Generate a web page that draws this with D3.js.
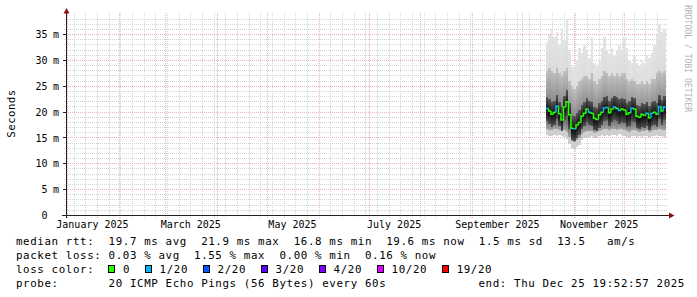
<!DOCTYPE html>
<html>
<head>
<meta charset="utf-8">
<script src="https://cdn.jsdelivr.net/npm/d3@7"></script>
<style>
  body { margin: 0; background: #fff; }
  svg { display: block; font-family: "DejaVu Sans Mono", monospace; }
</style>
</head>
<body>
<svg id="chart" width="697" height="297"></svg>
<script>
// graph window: last 360 days up to the end time
var endTime = new Date(Date.UTC(2025, 11, 25, 19, 52, 57));
var spanDays = 360;
// probing starts mid October, one bucket every 36 h
var dataStart = new Date(Date.UTC(2025, 9, 15, 3, 0, 0));
var stepHours = 36;

// median rtt per bucket (ms)
var median = [20.7, 20.2, 19.6, 20.0, 21.2, 19.7, 18.5, 21.0, 22.0, 19.5, 16.9, 16.8,
              17.5, 18.0, 19.2, 19.8, 20.6, 20.0, 19.8, 18.8, 18.6, 19.5, 20.0, 20.8,
              20.9, 19.9, 20.6, 21.0, 20.7, 20.3, 20.6, 20.4, 19.6, 19.9, 20.8, 20.6,
              19.2, 19.0, 19.6, 19.4, 19.8, 18.9, 19.8, 20.0, 19.6, 21.1, 20.2, 21.0];
// lost pings out of 20 per bucket
var loss = [1, 0, 0, 0, 1, 0, 0, 0, 0, 0, 0, 1,
            0, 0, 0, 0, 0, 1, 0, 0, 0, 0, 0, 1,
            1, 0, 0, 1, 0, 1, 0, 0, 0, 0, 1, 0,
            0, 0, 0, 0, 1, 0, 1, 0, 0, 1, 0, 1];
// smoke: fastest / slowest ping
var pingMin = [15.6, 15.4, 15.3, 15.5, 15.4, 15.6, 15.3, 15.2, 14.8, 13.8, 13.0, 12.8,
               13.2, 13.6, 14.6, 15.0, 15.2, 15.1, 15.3, 15.0, 15.2, 15.4, 15.5, 15.3,
               15.6, 15.4, 15.5, 15.6, 15.3, 15.7, 15.5, 15.4, 15.2, 15.0, 15.3, 15.4,
               15.2, 15.3, 15.1, 15.4, 15.3, 15.2, 15.4, 15.3, 15.5, 15.3, 15.4, 15.2];
var pingMax = [33.5, 35.0, 36.0, 34.5, 35.5, 33.0, 36.0, 34.0, 38.0, 32.0, 29.0, 28.5,
               30.0, 32.5, 31.5, 33.0, 32.0, 30.5, 34.5, 29.5, 29.0, 30.0, 32.5, 34.5,
               32.0, 31.5, 32.5, 31.0, 32.0, 33.0, 32.0, 34.5, 32.5, 30.0, 29.5, 31.0,
               29.5, 29.0, 30.0, 29.5, 31.0, 30.5, 31.5, 33.0, 35.0, 37.0, 35.5, 36.0];
// smoke: middle band of pings
var midLow = [16.8, 16.6, 16.5, 16.7, 16.8, 16.6, 16.3, 16.5, 16.2, 15.2, 14.4, 14.2,
              14.6, 15.0, 15.8, 16.2, 16.4, 16.3, 16.3, 16.0, 16.1, 16.4, 16.6, 16.7,
              16.8, 16.5, 16.7, 16.8, 16.6, 16.8, 16.7, 16.6, 16.3, 16.2, 16.5, 16.6,
              16.3, 16.2, 16.3, 16.4, 16.5, 16.2, 16.4, 16.5, 16.5, 16.7, 16.6, 16.5];
var midHigh = [28.0, 28.5, 28.0, 27.5, 28.5, 27.5, 27.0, 28.0, 28.5, 26.0, 25.0, 24.5,
               25.0, 26.0, 26.5, 27.0, 27.0, 26.5, 27.5, 26.0, 25.5, 26.5, 27.0, 28.0,
               27.5, 27.0, 27.5, 27.0, 27.5, 27.0, 27.5, 27.5, 26.5, 26.0, 26.5, 26.0,
               25.5, 25.5, 26.0, 25.5, 26.0, 25.5, 26.5, 26.5, 27.5, 28.0, 27.5, 28.0];
// smoke: dense core around the median
var coreLow = [18.2, 17.8, 17.2, 17.5, 18.6, 17.3, 16.4, 18.4, 19.2, 16.8, 14.6, 14.4,
               15.0, 15.6, 16.8, 17.4, 18.1, 17.6, 17.3, 16.5, 16.3, 17.0, 17.6, 18.3,
               18.4, 17.4, 18.1, 18.5, 18.2, 17.8, 18.1, 17.9, 17.1, 17.4, 18.3, 18.1,
               16.9, 16.7, 17.1, 17.0, 17.4, 16.6, 17.3, 17.6, 17.2, 18.6, 17.6, 18.5];
var coreHigh = [23.0, 22.5, 22.0, 22.2, 23.4, 22.0, 21.0, 23.2, 24.3, 21.8, 19.4, 19.2,
                19.8, 20.4, 21.4, 22.0, 22.8, 22.2, 22.0, 21.0, 20.8, 21.7, 22.2, 23.0,
                23.1, 22.1, 22.8, 23.2, 22.9, 22.5, 22.8, 22.6, 21.8, 22.1, 23.0, 22.8,
                21.4, 21.2, 21.8, 21.6, 22.0, 21.1, 22.0, 22.2, 21.8, 23.3, 22.4, 23.2];

var yMajor = [0, 5, 10, 15, 20, 25, 30, 35];
var yMax = 38.7;

var lossLabels = ["0", "1/20", "2/20", "3/20", "4/20", "10/20", "19/20"];
var lossColors = ["#26ff00", "#00b8ff", "#0059ff", "#5e00ff", "#7e00ff", "#dd00ff", "#ff0000"];
// which legend colour a loss count uses
var lossSteps = [0, 1, 2, 3, 4, 10, 19];

var statRows = [
  "median rtt:  19.7 ms avg  21.9 ms max  16.8 ms min  19.6 ms now  1.5 ms sd  13.5   am/s",
  "packet loss: 0.03 % avg  1.55 % max  0.00 % min  0.16 % now"
];
var probeText = "probe:       20 ICMP Echo Pings (56 Bytes) every 60s";
var endText = "end: Thu Dec 25 19:52:57 2025";

var svg = d3.select("#chart");
var startTime = d3.utcDay.offset(endTime, -spanDays);

var x = d3.scaleTime().domain([startTime, endTime]).range([65.5, 665.5]);
var y = d3.scaleLinear().domain([0, yMax]).range([215.5, 15.5]);
function px(v) { return Math.floor(v) + 0.5; }
// keep runs of spaces in svg text
function keep(s) { return s.replace(/ /g, "\u00a0"); }

var defs = svg.append("defs");
defs.append("clipPath").attr("id", "plot")
  .append("rect").attr("x", 66).attr("y", 15).attr("width", 600).attr("height", 200.5);

function grad(id, stops) {
  var g = defs.append("linearGradient").attr("id", id)
    .attr("x1", 0).attr("y1", 0).attr("x2", 0).attr("y2", 1);
  stops.forEach(function(s) {
    g.append("stop").attr("offset", s[0]).attr("stop-color", s[1]);
  });
}
grad("gOuter", [[0, "#e4e4e4"], [0.7, "#d4d4d4"], [1, "#cdcdcd"]]);
grad("gMid", [[0, "#c0c0c0"], [0.5, "#8e8e8e"], [0.8, "#646464"], [1, "#a2a2a2"]]);
grad("gCore", [[0, "#585858"], [0.4, "#222222"], [0.6, "#121212"], [1, "#505050"]]);

// ---- grid ----
var grid = svg.append("g").attr("shape-rendering", "crispEdges");

var minorY = d3.range(1, 39).filter(function(v) { return v % 5 !== 0; });
grid.selectAll("line.hmin").data(minorY).join("line")
  .attr("x1", 64).attr("x2", 668)
  .attr("y1", function(d) { return px(y(d)); })
  .attr("y2", function(d) { return px(y(d)); })
  .attr("stroke", "#d4d4d4").attr("stroke-dasharray", "1,1");

var weeks = d3.utcSunday.range(startTime, endTime);
grid.selectAll("line.vmin").data(weeks).join("line")
  .attr("x1", function(d) { return px(x(d)); })
  .attr("x2", function(d) { return px(x(d)); })
  .attr("y1", 13).attr("y2", 218)
  .attr("stroke", "#d4d4d4").attr("stroke-dasharray", "1,1");

grid.selectAll("line.hmaj").data(yMajor.slice(1)).join("line")
  .attr("x1", 64).attr("x2", 668)
  .attr("y1", function(d) { return px(y(d)); })
  .attr("y2", function(d) { return px(y(d)); })
  .attr("stroke", "#eeb0b0").attr("stroke-dasharray", "1,1");

var months = d3.utcMonth.range(startTime, endTime);
grid.selectAll("line.vmaj").data(months).join("line")
  .attr("x1", function(d) { return px(x(d)); })
  .attr("x2", function(d) { return px(x(d)); })
  .attr("y1", 13).attr("y2", 218)
  .attr("stroke", "#eeb0b0").attr("stroke-dasharray", "1,1");

// ---- smoke ----
var buckets = median.map(function(m, i) {
  return {
    t0: d3.utcHour.offset(dataStart, i * stepHours),
    t1: d3.utcHour.offset(dataStart, (i + 1) * stepHours),
    med: m, loss: loss[i],
    min: pingMin[i], max: pingMax[i],
    lo2: midLow[i], hi2: midHigh[i],
    lo1: coreLow[i], hi1: coreHigh[i]
  };
});

var plot = svg.append("g").attr("clip-path", "url(#plot)");
var bands = [["min", "max", "url(#gOuter)"], ["lo2", "hi2", "url(#gMid)"], ["lo1", "hi1", "url(#gCore)"]];
bands.forEach(function(b) {
  plot.append("g").attr("shape-rendering", "crispEdges")
    .selectAll("rect").data(buckets).join("rect")
    .attr("x", function(d) { return x(d.t0); })
    .attr("width", function(d) { return x(d.t1) - x(d.t0); })
    .attr("y", function(d) { return y(d[b[1]]); })
    .attr("height", function(d) { return y(d[b[0]]) - y(d[b[1]]); })
    .attr("fill", b[2]);
});

// median coloured by loss
function lossColor(n) {
  var idx = 0;
  lossSteps.forEach(function(s, i) { if (n >= s) idx = i; });
  return lossColors[idx];
}
plot.append("g").selectAll("path").data(buckets).join("path")
  .attr("d", function(d, i) {
    var prev = i > 0 ? buckets[i - 1].med : d.med;
    return "M" + x(d.t0) + "," + y(prev) + "V" + y(d.med) + "H" + x(d.t1);
  })
  .attr("fill", "none")
  .attr("stroke", function(d) { return lossColor(d.loss); })
  .attr("stroke-width", 1.5);

// ---- axes ----
var axis = svg.append("g").attr("shape-rendering", "crispEdges");
axis.append("line").attr("x1", 62).attr("x2", 669).attr("y1", 215.5).attr("y2", 215.5)
  .attr("stroke", "#222");
axis.append("line").attr("x1", 66.5).attr("x2", 66.5).attr("y1", 218).attr("y2", 12)
  .attr("stroke", "#222");
axis.selectAll("line.ytick").data(yMajor).join("line")
  .attr("x1", 63).attr("x2", 66)
  .attr("y1", function(d) { return px(y(d)); })
  .attr("y2", function(d) { return px(y(d)); })
  .attr("stroke", "#222");
svg.append("path").attr("d", "M63.5,13.5L66.5,8L69.5,13.5Z").attr("fill", "#8b1010");
svg.append("path").attr("d", "M669,212.5L674.5,215.5L669,218.5Z").attr("fill", "#8b1010");

// y labels
var yl = svg.append("g").attr("font-size", "10px").attr("fill", "#000");
yl.selectAll("text.num").data(yMajor).join("text")
  .attr("x", 47.5).attr("y", function(d) { return y(d) + 3.6; })
  .attr("text-anchor", "end")
  .text(function(d) { return d; });
yl.selectAll("text.unit").data(yMajor.slice(1)).join("text")
  .attr("x", 53).attr("y", function(d) { return y(d) + 3.6; })
  .text("m");

// x labels, every second month, centred on the month
var labelMonths = months.filter(function(m) { return m.getUTCMonth() % 2 === 0; });
svg.append("g").attr("font-size", "10px").attr("fill", "#000")
  .selectAll("text").data(labelMonths).join("text")
  .attr("x", function(d) { return x(d3.utcDay.offset(d, 15)); })
  .attr("y", 228.3)
  .attr("text-anchor", "middle")
  .text(d3.utcFormat("%B %Y"));

// axis title and watermark
svg.append("text")
  .attr("transform", "translate(15,113.5) rotate(-90)")
  .attr("text-anchor", "middle")
  .attr("font-size", "10.8px").attr("letter-spacing", "0.4px")
  .text("Seconds");
svg.append("text")
  .attr("transform", "translate(685,5) rotate(90)")
  .attr("font-size", "8.1px").attr("fill", "#b4b4b4")
  .text("RRDTOOL / TOBI OETIKER");

// ---- legend ----
var cw = 7.12;
var leg = svg.append("g").attr("font-size", "10.8px").attr("letter-spacing", "0.62px")
  .attr("fill", "#000");
var rowY = [245, 258.9, 272.8, 286.7];

statRows.forEach(function(s, i) {
  leg.append("text").attr("x", 16).attr("y", rowY[i]).text(keep(s));
});

leg.append("text").attr("x", 16).attr("y", rowY[2]).text(keep("loss color:"));
var bx = 108.5;
lossLabels.forEach(function(lbl, i) {
  leg.append("rect").attr("x", bx).attr("y", 265.5).attr("width", 6).attr("height", 7)
    .attr("fill", lossColors[i]).attr("stroke", "#000").attr("shape-rendering", "crispEdges");
  var tx = bx + 14.5;
  leg.append("text").attr("x", tx).attr("y", rowY[2]).text(lbl);
  bx = tx + lbl.length * cw + 15;
});

leg.append("text").attr("x", 16).attr("y", rowY[3]).text(keep(probeText));
leg.append("text").attr("x", 478.5).attr("y", rowY[3]).text(keep(endText));
</script>
</body>
</html>
